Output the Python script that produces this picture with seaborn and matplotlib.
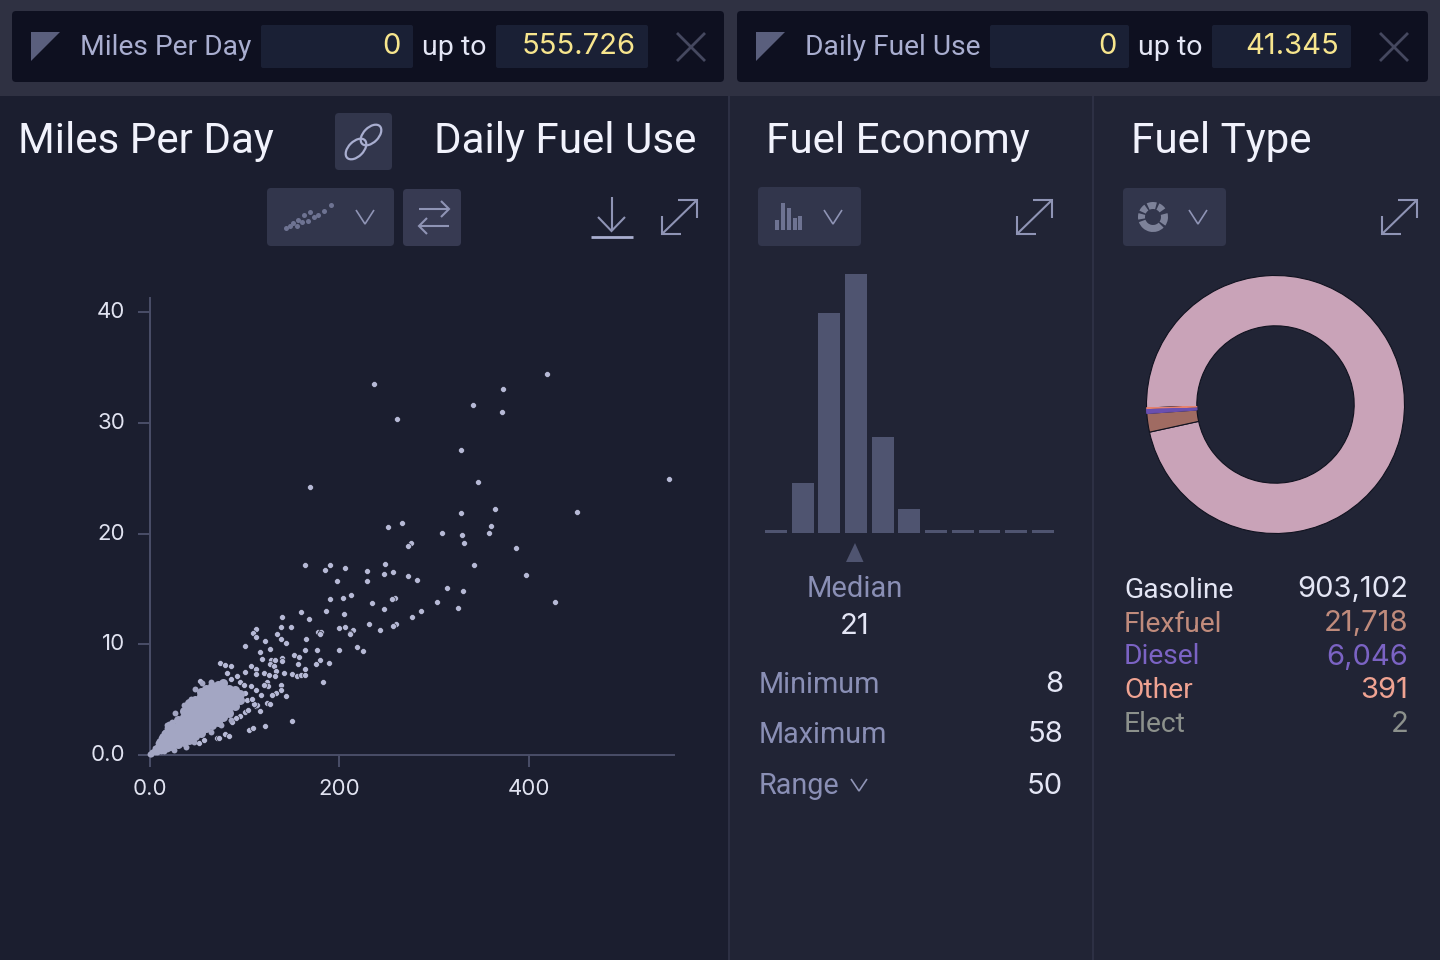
import matplotlib
matplotlib.use("Agg")
import matplotlib.pyplot as plt
import matplotlib.patches as mpatches
from matplotlib.transforms import ScaledTranslation
import seaborn as sns

# isolated trips
scatter_x = [237.1, 420, 373, 341.2, 371.9, 260.7, 328.2, 347.1, 547.8, 169.6, 364.1, 328.6, 451.4, 266.7, 251.5,
             360.6, 308.2, 357.8, 330.3, 331.4, 275.8, 272.3, 387, 342, 396.8, 427.4, 331, 313.5, 302.9, 325.4,
             286, 276.9, 164.3, 190, 184.7, 205.8, 229.7, 249, 247.3, 256.8, 229, 272.6, 281.8, 197.4, 190,
             204, 212.9, 259.6, 256.1, 235, 247.3, 159.4, 186.4, 205, 168.5, 139.7, 148.8, 138.3, 231.9, 260.4,
             256.5, 200.2, 206.5, 214.6, 243.1, 212, 178, 181.5, 179.7, 165,
             100.6, 112.6, 109, 112.9, 121.4, 127.4, 116.8, 118.6, 127.7, 132.6, 139.3, 139.3, 127, 131.2, 133.3,
             132.7, 141.8, 150.6, 155.9, 160.1, 164.6, 152.3, 158, 164.6, 144.3, 138.3, 134.4, 156.5, 164.6, 177,
             179.7, 175.2, 189.2, 183.3, 200.2, 219.2, 224.8, 212.1, 150.9, 122.4, 104.8, 109.4, 71.4, 73.1, 79.5,
             83.7, 52, 57.3, 144.3, 138.3, 138.3, 133.7, 129.5, 123.5, 127, 116.4, 111.9, 113.7, 110.1, 95.3,
             91.8, 87.3, 101.3, 103.8, 74.2, 80.2, 86.5, 52.8, 101.3, 107.3, 112.9, 111.9, 120.6, 125.9, 124.2,
             124.9, 120.6, 117.2, 111.9, 106.6, 101.3, 103.1, 108.4, 85.5, 82, 92.6, 96, 99.5]
scatter_y = [33.5, 34.4, 33.1, 31.6, 31.0, 30.4, 27.6, 24.7, 24.9, 24.2, 22.2, 21.9, 22.0, 21.0, 20.6,
             20.7, 20.1, 20.1, 19.9, 19.2, 19.2, 18.9, 18.7, 17.2, 16.3, 13.8, 14.8, 15.1, 13.8, 13.3,
             13.0, 12.5, 17.2, 17.2, 16.7, 16.9, 16.6, 17.3, 16.4, 16.5, 15.7, 16.2, 15.8, 15.7, 14.1,
             14.2, 14.5, 14.2, 14.1, 13.7, 13.2, 12.9, 13.0, 12.7, 12.3, 12.5, 11.6, 11.6, 11.8, 11.8,
             11.7, 11.5, 11.6, 11.3, 11.3, 11.0, 11.1, 11.1, 10.9, 10.5,
             9.85, 11.35, 11.0, 10.7, 10.3, 9.6, 9.3, 8.7, 8.6, 8.6, 8.8, 8.5, 8.2, 8.0, 7.6,
             7.1, 7.4, 7.3, 7.1, 7.2, 7.2, 9.0, 8.9, 9.5, 10.1, 10.5, 10.9, 8.2, 7.8, 9.5,
             8.6, 8.2, 8.3, 6.6, 9.5, 9.8, 9.4, 10.9, 3.1, 2.65, 2.3, 2.4, 1.5, 1.5, 1.9,
             1.7, 1.1, 1.35, 5.3, 6.3, 5.9, 5.6, 5.4, 4.7, 4.6, 4.0, 4.4, 4.5, 4.6, 3.55,
             3.3, 3.0, 3.9, 4.05, 8.3, 8.1, 8.0, 6.7, 7.5, 8.0, 7.8, 7.3, 7.4, 7.2, 6.6,
             6.2, 6.3, 5.4, 5.9, 6.2, 5.6, 5.0, 5.1, 6.9, 7.4, 7.1, 6.6, 6.3]

# tip of the dense wedge plus its scalloped edge
tip_x = [0, 1.5, 3, 4.5, 6, 6, 7.5, 7.5, 9, 9, 9, 10.5, 10.5, 10.5, 12, 12, 12, 12, 13.5, 13.5, 13.5, 13.5,
         15, 15, 15, 15, 15, 16.5, 16.5, 16.5, 16.5, 18, 18, 18, 18, 18, 18, 19.5, 19.5, 19.5, 19.5,
         18.7, 24, 27.4, 36.2, 43.3, 48.5, 55.6, 64.4, 66.2, 25.7, 38, 46.8, 64.4, 75, 85.5, 21, 21, 21, 21, 21]
tip_y = [0.05, 0.1, 0.25, 0.35, 0.3, 0.6, 0.3, 0.75, 0.4, 0.8, 1.1, 0.5, 0.95, 1.3, 0.4, 0.8, 1.2, 1.5, 0.55, 1.0, 1.4, 1.75,
         0.4, 0.8, 1.2, 1.6, 2.0, 0.6, 1.05, 1.5, 2.1, 0.5, 0.9, 1.3, 1.7, 2.1, 2.4, 0.75, 1.15, 1.95, 2.6,
         2.7, 3.0, 3.8, 4.5, 5.1, 6.0, 6.5, 6.6, 6.3, 0.45, 0.75, 1.2, 2.1, 2.7, 3.2, 0.6, 1.2, 1.8, 2.4, 2.8]

# body of the dense wedge
core_x = ([24] * 4 + [30] * 5 + [36] * 6 + [42] * 7 + [48] * 7 + [54] * 8 + [60] * 8 + [66] * 8
          + [72] * 7 + [78] * 7 + [84] * 5 + [90] * 4 + [96] * 2)
core_y = [0.85, 1.4, 1.95, 2.5,
          1.0, 1.55, 2.1, 2.65, 3.2,
          1.2, 1.75, 2.3, 2.85, 3.4, 3.95,
          1.4, 1.95, 2.5, 3.05, 3.6, 4.15, 4.7,
          1.7, 2.25, 2.8, 3.35, 3.9, 4.45, 5.0,
          2.0, 2.55, 3.1, 3.65, 4.2, 4.75, 5.3, 5.65,
          2.4, 2.95, 3.5, 4.05, 4.6, 5.15, 5.7, 6.0,
          2.7, 3.25, 3.8, 4.35, 4.9, 5.45, 6.0, 6.25,
          3.0, 3.55, 4.1, 4.65, 5.2, 5.75, 6.3,
          3.4, 3.95, 4.5, 5.05, 5.6, 6.15, 6.5,
          3.8, 4.35, 4.9, 5.45, 6.0,
          4.4, 4.95, 5.5, 5.9,
          5.0, 5.5]

x_ticks = [0, 200, 400]
x_tick_labels = ["0.0", "200", "400"]
y_ticks = [0, 10, 20, 30, 40]
y_tick_labels = ["0.0", "10", "20", "30", "40"]

# fuel economy histogram
mpg_bins = ["8", "12.5", "17", "21.5", "26", "30.5", "35", "39.5", "44", "48.5", "53"]
mpg_counts = [3600, 72000, 315000, 372000, 137000, 34000, 3600, 3600, 3600, 3600, 3600]

# fuel type donut
fuel_types = ["Gasoline", "Flexfuel", "Diesel", "Other", "Elect"]
fuel_counts = [903102, 21718, 6046, 391, 2]
fuel_labels = ["903,102", "21,718", "6,046", "391", "2"]

stat_names = ["Minimum", "Maximum", "Range"]
stat_values = ["8", "58", "50"]

BAND = "#2f3142"
LEFT = "#1b1e2f"
PANEL = "#212435"
BOX = "#0e1020"
FIELD = "#1a2035"
BTN = "#32364c"
BAR = "#4f5470"
DOT = "#a3a6c3"
MUTED = "#8a8fb5"
LIGHT = "#e4e6f5"
YELLOW = "#f7e58d"
ICON = "#8f94b5"
AXIS = "#4a4e68"

sns.set_theme(style="dark", rc={"axes.facecolor": LEFT, "figure.facecolor": LEFT})
plt.rcParams["font.family"] = ["Roboto", "DejaVu Sans"]
NUM_FONT = ["Inter", "DejaVu Sans"]

W, H = 1440, 960
fig = plt.figure(figsize=(W / 100, H / 100), dpi=100)


def px_axes(left, top, right, bottom, **kw):
    return fig.add_axes([left / W, 1 - bottom / H, (right - left) / W, (bottom - top) / H], **kw)


ui = px_axes(0, 0, W, H)
ui.set_xlim(0, W)
ui.set_ylim(H, 0)
ui.axis("off")


def rect(x0, y0, x1, y1, color, rounded=0):
    if rounded:
        ui.add_patch(mpatches.FancyBboxPatch((x0 + rounded, y0 + rounded), x1 - x0 - 2 * rounded, y1 - y0 - 2 * rounded,
                                             boxstyle=f"round,pad={rounded},rounding_size={rounded}",
                                             fc=color, ec="none"))
    else:
        ui.add_patch(mpatches.Rectangle((x0, y0), x1 - x0, y1 - y0, fc=color, ec="none"))


def line(xs, ys, color=ICON, lw=1.5):
    ui.plot(xs, ys, color=color, lw=lw, solid_capstyle="butt", solid_joinstyle="miter")


def label(x, y, s, size, color, ha="left"):
    ui.text(x, y + 2, s, fontsize=size, color=color, ha=ha, va="center")


def number(x, y, s, size, color, ha="right"):
    ui.text(x, y, s, fontsize=size, color=color, ha=ha, va="center", family=NUM_FONT)


def chevron(cx, cy, w=9, h=7, color=ICON):
    line([cx - w, cx, cx + w], [cy - h, cy + h, cy - h], color, 1.2)


def expand(dx):
    line([662 + dx, 697 + dx], [234, 200])
    line([678 + dx, 697 + dx, 697 + dx], [200, 200, 218])
    line([662 + dx, 662 + dx, 681 + dx], [216, 234, 234])


# backgrounds
rect(0, 0, W, 96, BAND)
rect(0, 96, 728, H, LEFT)
rect(728, 96, W, H, PANEL)
rect(728, 96, 730, H, "#2d3044")
rect(1092, 96, 1094, H, "#2d3044")

# filter bars
for x0, x1, tri, name, name_x, f0, f1, f2, f3, hi, xm in [
    (12, 724, 31, "Miles Per Day", 80, 261, 413, 496, 648, "555.726", 691),
    (737, 1428, 756, "Daily Fuel Use", 805, 990, 1129, 1212, 1351, "41.345", 1394),
]:
    rect(x0, 11, x1, 82, BOX, 4)
    ui.add_patch(mpatches.Polygon([(tri, 32), (tri + 29, 32), (tri, 61)], fc="#5a5f7d", ec="none"))
    label(name_x, 45.5, name, 20.3, "#a9aeD0")
    rect(f0, 25, f1, 68, FIELD, 2)
    rect(f2, 25, f3, 68, FIELD, 2)
    number(f1 - 12, 47, "0", 21, YELLOW)
    label((f1 + f2) / 2, 45.5, "up to", 20.5, LIGHT, "center")
    number(f3 - 12, 47, hi, 21, YELLOW)
    line([xm - 14, xm + 14], [33, 61], "#45485f", 2)
    line([xm - 14, xm + 14], [61, 33], "#45485f", 2)

# titles
label(18, 139, "Miles Per Day", 30.3, "#f1f2fc")
label(434, 139, "Daily Fuel Use", 30.3, "#f1f2fc")
label(766, 139, "Fuel Economy", 30.3, "#f1f2fc")
label(1131, 139, "Fuel Type", 30.3, "#f1f2fc")

# buttons
rect(335, 113, 392, 170, BTN, 4)
rect(267, 188, 394, 246, BTN, 4)
rect(403, 189, 461, 246, "#373a52", 4)
rect(758, 187, 861, 246, BTN, 4)
rect(1123, 188, 1226, 246, BTN, 4)

# link icon
for cx, cy in [(356, 149), (371, 135)]:
    ui.add_patch(mpatches.Ellipse((cx, cy), 25, 15, angle=-45, fc="none", ec="#a9aed0", lw=1.6))

# scatter icon
icon_dx = [286, 290, 293, 297, 298, 302, 304, 308, 310, 314, 318, 324, 331]
icon_dy = [228, 226, 223, 226, 220, 222, 215, 221, 212, 217, 215, 211, 205]
ui.scatter(icon_dx, icon_dy, s=13, color="#6e7392", linewidths=0)
chevron(365, 217)

# swap icon
line([419, 449], [209, 209])
line([441, 449, 441], [201, 209, 217])
line([449, 419], [226, 226])
line([427, 419, 427], [218, 226, 234])

# download + expand
line([611.5, 611.5], [197, 231])
line([598, 611.5, 625], [217, 231, 217])
line([591, 633], [237, 237], "#a9aed0", 2)
expand(0)
expand(355)
expand(720)

# histogram icon
for bx, top in [(777, 220), (783, 203), (789, 208), (795, 218), (799.5, 216)]:
    rect(bx - 2, top, bx + 2, 230, "#6e7392")
chevron(833, 217)

# donut icon
for a0, a1 in [(-15, 35), (45, 160), (170, 195), (205, 235), (245, 285), (295, 325)]:
    ui.add_patch(mpatches.Wedge((1153, 217), 15, a0, a1, width=7, fc="#7d8299", ec="none"))
chevron(1198, 217)

# scatter chart
ax = px_axes(149.5, 298, 674, 755)
sns.scatterplot(x=scatter_x, y=scatter_y, ax=ax, s=18, color="#b6b9d6", edgecolor="#10121f", linewidth=0.4,
                clip_on=False, zorder=3)
sns.scatterplot(x=tip_x, y=tip_y, ax=ax, s=18, color=DOT, linewidth=0, clip_on=False, zorder=4)
sns.scatterplot(x=core_x, y=core_y, ax=ax, s=42, color=DOT, linewidth=0, clip_on=False, zorder=4)
ax.set_xlim(0, 553.5)
ax.set_ylim(0, 41.3)
ax.set_xticks(x_ticks, x_tick_labels, family=NUM_FONT)
ax.set_yticks(y_ticks, y_tick_labels, family=NUM_FONT)
ax.tick_params(axis="both", length=8.5, width=1.4, color=AXIS, labelcolor="#e0e2f0", labelsize=16,
               left=True, bottom=True, pad=9)
# y tick labels sit slightly above their ticks
for t in ax.get_yticklabels():
    t.set_transform(t.get_transform() + ScaledTranslation(0, 0.02, fig.dpi_scale_trans))
ax.grid(False)
ax.set_facecolor("none")
for side in ["top", "right"]:
    ax.spines[side].set_visible(False)
for side in ["left", "bottom"]:
    ax.spines[side].set_color(AXIS)
    ax.spines[side].set_linewidth(1.4)

# histogram
hx = px_axes(762.6, 273.5, 1056.2, 533)
sns.barplot(x=mpg_bins, y=mpg_counts, ax=hx, color=BAR, saturation=1, width=0.82, edgecolor="none", linewidth=0)
hx.set_xlim(-0.5, 10.5)
hx.set_ylim(0, max(mpg_counts))
hx.axis("off")

ui.add_patch(mpatches.Polygon([(855, 543), (846, 562), (863.5, 562)], fc=BAR, ec="none"))
label(855, 587, "Median", 21, MUTED, "center")
number(855, 627, "21", 21, LIGHT, "center")
for name, val, y in zip(stat_names, stat_values, [683, 733, 784]):
    label(759, y, name, 20.7, MUTED)
    number(1063, y + 2, val, 21, LIGHT)
chevron(859, 785, 8, 6)

# donut
dx = px_axes(1146.5, 275.5, 1404.5, 533.5)
wedges, _ = dx.pie(fuel_counts, startangle=181.5, counterclock=False, radius=1,
                   colors=["#c9a3b8", "#a06b62", "#6a4fb0", "#e5816f", "#55565f"],
                   wedgeprops={"width": 0.39, "edgecolor": "#10121f", "linewidth": 0.8})
wedges[2].set_edgecolor("#6a4fb0")
wedges[3].set_edgecolor("#e5816f")
wedges[3].set_zorder(5)
dx.set_xlim(-1, 1)
dx.set_ylim(-1, 1)

legend_colors = ["#e4e6f5", "#c08b7c", "#7b63c4", "#f0a392", "#8c918c"]
for name, val, c, y in zip(fuel_types, fuel_labels, legend_colors, [588, 622, 655, 689, 722]):
    label(1124, y, name, 20.3, c)
    number(1408.5, y + 2, val, 21, c)

fig.savefig("out.png", dpi=100, facecolor=LEFT)
